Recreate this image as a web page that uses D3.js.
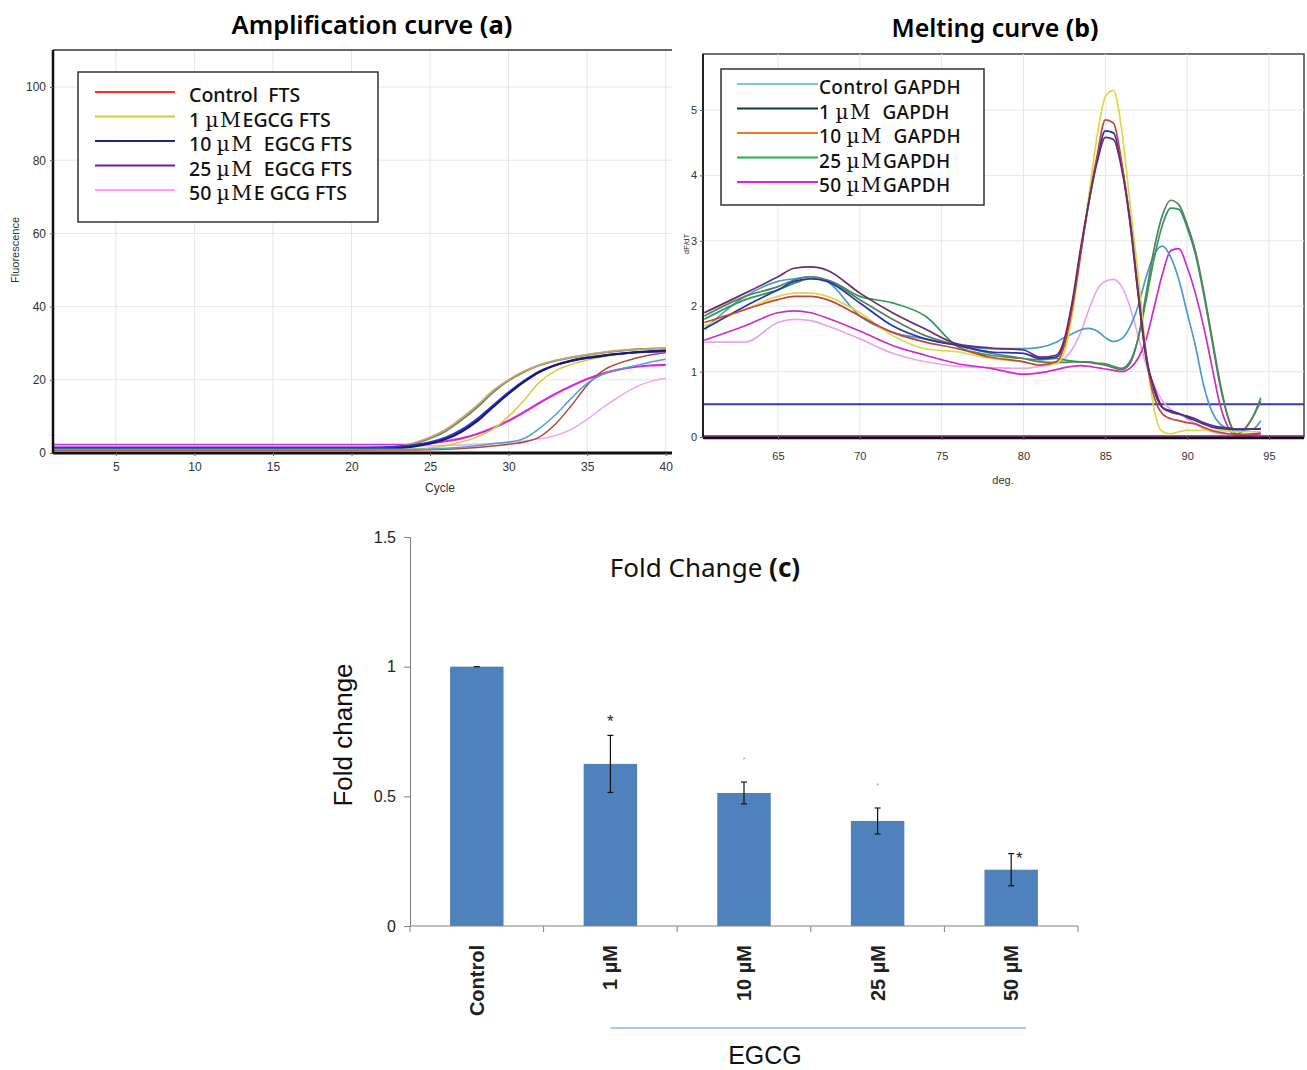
<!DOCTYPE html>
<html>
<head>
<meta charset="utf-8">
<script src="https://cdn.jsdelivr.net/npm/d3@7"></script>
<style>
  body { margin: 0; background: #fff; }
  svg { display: block; }
</style>
</head>
<body>
<svg id="chart" width="1307" height="1070"></svg>
<script>
// ---- panel (a) amplification curve ----
var ampCycles  = [1, 5, 10, 15, 20, 22, 23, 24, 25, 26, 27, 28, 29, 30, 31, 32, 33, 34, 35, 36, 37, 38, 39, 40];
var ampOlive   = [1.0, 1.0, 1.0, 1.0, 1.0, 1.2, 1.6, 2.5, 4.0, 6.0, 9.0, 12.5, 16.5, 19.8, 22.2, 24.0, 25.2, 26.1, 26.8, 27.4, 27.9, 28.3, 28.5, 28.6];
var ampTan     = [1.2, 1.2, 1.2, 1.2, 1.2, 1.4, 1.8, 2.8, 4.3, 6.4, 9.5, 13.0, 17.0, 20.0, 22.4, 24.1, 25.3, 26.2, 26.9, 27.5, 28.0, 28.3, 28.4, 28.5];
var ampNavy    = [1.0, 1.0, 1.0, 1.0, 1.0, 1.1, 1.3, 1.8, 2.6, 3.8, 5.8, 8.7, 12.5, 16.2, 19.5, 22.2, 24.0, 25.2, 26.0, 26.6, 27.1, 27.5, 27.8, 28.0];
var ampBlue    = [1.5, 1.5, 1.5, 1.5, 1.5, 1.6, 1.8, 2.2, 3.0, 4.3, 6.4, 9.4, 13.0, 16.6, 19.8, 22.4, 24.1, 25.3, 26.1, 26.7, 27.1, 27.4, 27.6, 27.8];
var ampPurple  = [1.3, 1.3, 1.3, 1.3, 1.3, 1.4, 1.6, 2.0, 2.8, 4.0, 6.0, 9.0, 12.8, 16.4, 19.6, 22.3, 24.0, 25.1, 25.9, 26.5, 27.0, 27.4, 27.7, 27.9];
var ampYellow  = [1.0, 1.0, 1.0, 1.0, 1.0, 1.0, 1.0, 1.1, 1.4, 2.0, 3.0, 4.4, 6.5, 10.0, 14.5, 19.5, 22.5, 24.2, 25.4, 26.3, 27.0, 27.5, 27.9, 28.2];
var ampMagenta = [2.2, 2.2, 2.2, 2.2, 2.2, 2.2, 2.2, 2.3, 2.6, 3.2, 4.0, 5.2, 6.8, 8.8, 11.2, 13.8, 16.2, 18.3, 20.2, 21.7, 22.8, 23.5, 23.9, 24.1];
var ampRed     = [0.8, 0.8, 0.8, 0.8, 0.8, 0.8, 0.8, 0.8, 0.9, 1.0, 1.2, 1.5, 1.9, 2.4, 3.0, 4.5, 8.0, 13.0, 18.5, 22.5, 24.5, 25.8, 26.8, 27.4];
var ampSteel   = [1.0, 1.0, 1.0, 1.0, 1.0, 1.0, 1.0, 1.0, 1.1, 1.3, 1.6, 2.0, 2.5, 3.0, 4.0, 6.8, 10.5, 15.0, 19.0, 21.5, 22.8, 23.8, 24.8, 25.6];
var ampPink    = [2.0, 2.0, 2.0, 2.0, 2.0, 2.0, 2.0, 2.0, 2.0, 2.1, 2.2, 2.4, 2.6, 2.9, 3.3, 3.9, 4.8, 6.5, 9.2, 12.4, 15.3, 17.8, 19.5, 20.4];
var ampXTicks  = [5, 10, 15, 20, 25, 30, 35, 40];
var ampYTicks  = [0, 20, 40, 60, 80, 100];
var ampLabels  = [["Control  FTS"], ["1 ", "\u00b5M", "EGCG FTS"], ["10 ", "\u00b5M", "  EGCG FTS"],
                  ["25 ", "\u00b5M", "  EGCG FTS"], ["50 ", "\u00b5M", "E GCG FTS"]];
var ampLegendColors = ["#ff2a2a", "#cfcf2a", "#1b2a7a", "#6a1bb5", "#ff9cee"];

// ---- panel (b) melting curve ----
var meltTemps   = [60.5, 63, 65, 66, 67, 68, 70, 72, 74, 76, 78, 80, 81, 82, 82.5, 83, 83.5, 84, 84.5, 85,
                   85.5, 86, 86.5, 87, 87.5, 88, 88.5, 89, 89.5, 90, 90.5, 91, 91.5, 92, 92.5, 93, 94, 94.5];
var meltPink    = [1.45, 1.45, 1.75, 1.8, 1.78, 1.7, 1.5, 1.28, 1.15, 1.08, 1.06, 1.05, 1.08, 1.12, 1.2, 1.35, 1.6, 1.95, 2.25, 2.38,
                   2.41, 2.3, 2.0, 1.55, 1.1, 0.78, 0.55, 0.42, 0.35, 0.28, 0.2, 0.13, 0.08, 0.05, 0.04, 0.03, 0.03, 0.03];
var meltMagenta = [1.48, 1.7, 1.9, 1.93, 1.9, 1.82, 1.62, 1.4, 1.25, 1.12, 1.05, 0.96, 0.98, 1.03, 1.06, 1.08, 1.09, 1.08, 1.06, 1.04,
                   1.02, 1.0, 1.05, 1.2, 1.5, 2.0, 2.5, 2.85, 2.88, 2.6, 2.2, 1.7, 1.1, 0.5, 0.15, 0.02, 0.03, 0.05];
var meltSteel   = [1.65, 2.15, 2.38, 2.42, 2.45, 2.38, 1.85, 1.6, 1.5, 1.4, 1.35, 1.35, 1.37, 1.45, 1.52, 1.58, 1.64, 1.66, 1.62, 1.52,
                   1.46, 1.5, 1.68, 2.0, 2.45, 2.8, 2.92, 2.75, 2.4, 1.9, 1.4, 0.8, 0.4, 0.2, 0.13, 0.1, 0.12, 0.25];
var meltGreen   = [1.8, 2.1, 2.25, 2.35, 2.42, 2.4, 2.15, 2.05, 1.85, 1.38, 1.25, 1.2, 1.18, 1.2, 1.18, 1.16, 1.15, 1.15, 1.13, 1.12,
                   1.08, 1.05, 1.15, 1.5, 2.1, 2.75, 3.25, 3.5, 3.48, 3.2, 2.8, 2.2, 1.5, 0.8, 0.3, 0.05, 0.3, 0.6];
var meltDkGreen = [1.85, 2.15, 2.3, 2.4, 2.45, 2.4, 2.1, 1.8, 1.55, 1.4, 1.28, 1.2, 1.15, 1.14, 1.14, 1.15, 1.15, 1.14, 1.12, 1.1,
                   1.06, 1.03, 1.12, 1.5, 2.2, 2.9, 3.4, 3.62, 3.55, 3.25, 2.85, 2.25, 1.55, 0.85, 0.3, 0.04, 0.3, 0.55];
var meltNavy    = [1.65, 2.0, 2.25, 2.38, 2.42, 2.38, 2.05, 1.7, 1.5, 1.4, 1.3, 1.28, 1.2, 1.22, 1.45, 2.05, 2.85, 3.6, 4.25, 4.68,
                   4.65, 4.15, 3.35, 2.25, 1.25, 0.7, 0.45, 0.4, 0.36, 0.3, 0.25, 0.2, 0.15, 0.13, 0.12, 0.12, 0.12, 0.12];
var meltRed     = [1.75, 1.95, 2.1, 2.15, 2.15, 2.1, 1.85, 1.6, 1.45, 1.35, 1.22, 1.15, 1.1, 1.15, 1.4, 2.0, 2.8, 3.6, 4.3, 4.85,
                   4.8, 4.2, 3.3, 2.2, 1.2, 0.6, 0.35, 0.28, 0.25, 0.22, 0.2, 0.15, 0.1, 0.07, 0.05, 0.04, 0.05, 0.06];
var meltPurple  = [1.9, 2.2, 2.45, 2.58, 2.6, 2.55, 2.2, 1.9, 1.65, 1.42, 1.36, 1.33, 1.22, 1.25, 1.5, 2.1, 2.9, 3.6, 4.2, 4.58,
                   4.55, 4.1, 3.3, 2.2, 1.2, 0.75, 0.45, 0.38, 0.35, 0.32, 0.28, 0.22, 0.18, 0.15, 0.14, 0.12, 0.12, 0.13];
var meltYellow  = [1.7, 1.95, 2.15, 2.2, 2.2, 2.15, 1.9, 1.55, 1.35, 1.3, 1.2, 1.15, 1.1, 1.12, 1.3, 1.9, 2.8, 3.7, 4.6, 5.2,
                   5.3, 4.7, 3.6, 2.5, 1.3, 0.4, 0.08, 0.05, 0.08, 0.1, 0.1, 0.1, 0.1, 0.1, 0.09, 0.08, 0.08, 0.08];
var meltThreshold = 0.5;
var meltXTicks  = [65, 70, 75, 80, 85, 90, 95];
var meltYTicks  = [0, 1, 2, 3, 4, 5];
var meltLabels  = [["Control GAPDH"], ["1 ", "\u00b5M", "  GAPDH"], ["10 ", "\u00b5M", "  GAPDH"],
                   ["25 ", "\u00b5M", "GAPDH"], ["50 ", "\u00b5M", "GAPDH"]];
var meltLegendColors = ["#7ec4de", "#0e3b2e", "#f07a20", "#22b050", "#e020e0"];

// ---- panel (c) fold change ----
var foldCats   = ["Control", "1 \u00b5M", "10 \u00b5M", "25 \u00b5M", "50 \u00b5M"];
var foldValues = [1.0, 0.625, 0.513, 0.405, 0.217];
var foldErrors = [0.0, 0.11, 0.042, 0.05, 0.062];
var foldStars  = ["", "*", "*", "*", "*"];
var foldTicks  = [0, 0.5, 1, 1.5];

var sans = "'Noto Sans', 'Noto Sans CJK KR', sans-serif";
var arial = "'Liberation Sans', Arial, sans-serif";
var narrow = "'Liberation Sans Narrow', 'Liberation Sans', Arial, sans-serif";
var serif = "'DejaVu Serif', 'Liberation Serif', serif";

var svg = d3.select('#chart');
svg.append('rect').attr('width', 1307).attr('height', 1070).attr('fill', '#fff');

// small helper for the "xx µM yyy" legend rows
function legendText(sel, parts, size) {
    parts.forEach(function (p, k) {
        var t = sel.append('tspan').text(p);
        if (k === 1) t.attr('font-family', serif).attr('font-size', size + 1).attr('letter-spacing', 1.5);
    });
}

// ================= panel (a) =================
var boxA = { left: 53, right: 672, top: 50, bottom: 453 };
var xA = d3.scaleLinear().domain([1, 40.4]).range([boxA.left, boxA.right]);
var yA = d3.scaleLinear().domain([0, 100]).range([453, 87]);
var gA = svg.append('g');

gA.append('text').attr('x', 372).attr('y', 34).attr('text-anchor', 'middle')
    .attr('font-family', sans).attr('font-size', 25.5).attr('font-weight', 600)
    .call(function (t) {
        t.append('tspan').text('Amplification curve ');
        t.append('tspan').attr('font-weight', 700).text('(a)');
    });

// grid
gA.selectAll('.gx').data(ampXTicks).enter().append('line')
    .attr('x1', xA).attr('x2', xA).attr('y1', boxA.top).attr('y2', boxA.bottom)
    .attr('stroke', '#e6e6e6');
gA.selectAll('.gy').data(ampYTicks.slice(1)).enter().append('line')
    .attr('x1', boxA.left).attr('x2', boxA.right).attr('y1', yA).attr('y2', yA)
    .attr('stroke', '#e6e6e6');

// curves
var ampSeries = [
    { v: ampMagenta, c: '#d82ad8', w: 2.2 },
    { v: ampPink, c: '#f2a6ee', w: 1.5 },
    { v: ampOlive, c: '#6a8f4a', w: 2 },
    { v: ampTan, c: '#c9a27c', w: 1.8 },
    { v: ampYellow, c: '#cfcf3a', w: 1.5 },
    { v: ampPurple, c: '#5a2a9a', w: 1.8 },
    { v: ampBlue, c: '#2a3cc8', w: 1.8 },
    { v: ampNavy, c: '#1a1a70', w: 2 },
    { v: ampRed, c: '#b5473a', w: 1.5 },
    { v: ampSteel, c: '#4ea3cf', w: 1.5 }
];
var lineA = d3.line()
    .x(function (d, i) { return xA(ampCycles[i]); })
    .y(function (d) { return yA(d); })
    .curve(d3.curveMonotoneX);
gA.selectAll('.curveA').data(ampSeries).enter().append('path')
    .attr('d', function (s) { return lineA(s.v); })
    .attr('fill', 'none').attr('stroke', function (s) { return s.c; })
    .attr('stroke-width', function (s) { return s.w; });

// frame and axes
gA.append('line').attr('x1', boxA.left).attr('x2', boxA.right).attr('y1', boxA.top).attr('y2', boxA.top)
    .attr('stroke', '#333').attr('stroke-width', 1.5);
gA.append('line').attr('x1', boxA.left).attr('x2', boxA.left).attr('y1', boxA.top).attr('y2', boxA.bottom)
    .attr('stroke', '#111').attr('stroke-width', 2.5);
gA.append('line').attr('x1', boxA.left).attr('x2', boxA.right).attr('y1', boxA.bottom).attr('y2', boxA.bottom)
    .attr('stroke', '#111').attr('stroke-width', 3);

var axA = gA.append('g').attr('transform', 'translate(' + boxA.left + ',0)')
    .call(d3.axisLeft(yA).tickValues(ampYTicks).tickSize(3).tickPadding(4));
var axAx = gA.append('g').attr('transform', 'translate(0,' + boxA.bottom + ')')
    .call(d3.axisBottom(xA).tickValues(ampXTicks).tickSize(3).tickPadding(6));
[axA, axAx].forEach(function (a) {
    a.select('.domain').remove();
    a.selectAll('text').attr('font-family', narrow).attr('font-size', 12).attr('fill', '#333');
    a.selectAll('line').attr('stroke', '#666');
});

gA.append('text').attr('x', 440).attr('y', 492).attr('text-anchor', 'middle')
    .attr('font-family', narrow).attr('font-size', 12).attr('fill', '#333').text('Cycle');
gA.append('text').attr('transform', 'translate(19,250) rotate(-90)').attr('text-anchor', 'middle')
    .attr('font-family', narrow).attr('font-size', 11).attr('fill', '#333').text('Fluorescence');

// legend a
var legA = gA.append('g');
legA.append('rect').attr('x', 78).attr('y', 72).attr('width', 300).attr('height', 150)
    .attr('fill', '#fff').attr('stroke', '#333').attr('stroke-width', 1.5);
ampLabels.forEach(function (lab, i) {
    var cy = 95 + i * 24.5;
    legA.append('line').attr('x1', 95).attr('x2', 175).attr('y1', cy - 3).attr('y2', cy - 3)
        .attr('stroke', ampLegendColors[i]).attr('stroke-width', 2);
    var t = legA.append('text').attr('x', 189).attr('y', cy + 7)
        .attr('font-family', sans).attr('font-size', 19.5).attr('font-weight', 500)
        .attr('fill', '#111').style('white-space', 'pre');
    legendText(t, lab, 19.5);
});

// ================= panel (b) =================
var boxB = { left: 703, right: 1304, top: 54, bottom: 437 };
var xB = d3.scaleLinear().domain([60.42, 97.14]).range([boxB.left, boxB.right]);
var yB = d3.scaleLinear().domain([0, 5]).range([437, 110]);
var gB = svg.append('g');

gB.append('text').attr('x', 995).attr('y', 37).attr('text-anchor', 'middle')
    .attr('font-family', sans).attr('font-size', 25).attr('font-weight', 600)
    .call(function (t) {
        t.append('tspan').text('Melting curve ');
        t.append('tspan').attr('font-weight', 700).text('(b)');
    });

gB.append('rect').attr('x', boxB.left).attr('y', boxB.top)
    .attr('width', boxB.right - boxB.left).attr('height', boxB.bottom - boxB.top)
    .attr('fill', '#fff').attr('stroke', '#444').attr('stroke-width', 1.5);
gB.selectAll('.gx').data(meltXTicks).enter().append('line')
    .attr('x1', xB).attr('x2', xB).attr('y1', boxB.top).attr('y2', boxB.bottom)
    .attr('stroke', '#e6e6e6');
gB.selectAll('.gy').data(meltYTicks.slice(1)).enter().append('line')
    .attr('x1', boxB.left).attr('x2', boxB.right).attr('y1', yB).attr('y2', yB)
    .attr('stroke', '#e6e6e6');

// threshold line
gB.append('line').attr('x1', boxB.left).attr('x2', boxB.right)
    .attr('y1', yB(meltThreshold)).attr('y2', yB(meltThreshold))
    .attr('stroke', '#3b3ba8').attr('stroke-width', 2);

var meltSeries = [
    { v: meltPink, c: '#eaa6ea' },
    { v: meltMagenta, c: '#cc2ccc' },
    { v: meltSteel, c: '#4a9cc9' },
    { v: meltGreen, c: '#2f9a5a' },
    { v: meltDkGreen, c: '#5a7f5e' },
    { v: meltYellow, c: '#d9d94a' },
    { v: meltNavy, c: '#2435b0' },
    { v: meltRed, c: '#c4453a' },
    { v: meltPurple, c: '#6b2c6b' }
];
var lineB = d3.line()
    .x(function (d, i) { return xB(meltTemps[i]); })
    .y(function (d) { return yB(d); })
    .curve(d3.curveMonotoneX);
gB.selectAll('.curveB').data(meltSeries).enter().append('path')
    .attr('d', function (s) { return lineB(s.v); })
    .attr('fill', 'none').attr('stroke', function (s) { return s.c; })
    .attr('stroke-width', 1.7);

// zero line + axes
gB.append('line').attr('x1', boxB.left).attr('x2', boxB.right).attr('y1', yB(0) - 1).attr('y2', yB(0) - 1)
    .attr('stroke', '#8a1f8a').attr('stroke-width', 1.5);
gB.append('line').attr('x1', boxB.left).attr('x2', boxB.right).attr('y1', yB(0) + 1).attr('y2', yB(0) + 1)
    .attr('stroke', '#111').attr('stroke-width', 2.5);
gB.append('line').attr('x1', boxB.left).attr('x2', boxB.left).attr('y1', boxB.top).attr('y2', boxB.bottom)
    .attr('stroke', '#222').attr('stroke-width', 2);

var axB = gB.append('g').attr('transform', 'translate(' + boxB.left + ',0)')
    .call(d3.axisLeft(yB).tickValues(meltYTicks).tickSize(3).tickPadding(3).tickFormat(d3.format('d')));
var axBx = gB.append('g').attr('transform', 'translate(0,' + boxB.bottom + ')')
    .call(d3.axisBottom(xB).tickValues(meltXTicks).tickSize(3).tickPadding(12));
[axB, axBx].forEach(function (a) {
    a.select('.domain').remove();
    a.selectAll('text').attr('font-family', narrow).attr('font-size', 11).attr('fill', '#333');
    a.selectAll('line').attr('stroke', '#666');
});
gB.append('text').attr('x', 1003).attr('y', 484).attr('text-anchor', 'middle')
    .attr('font-family', narrow).attr('font-size', 11).attr('fill', '#333').text('deg.');
gB.append('text').attr('transform', 'translate(689,244) rotate(-90)').attr('text-anchor', 'middle')
    .attr('font-family', narrow).attr('font-size', 8).attr('fill', '#333').text('dF/dT');

// legend b
var legB = gB.append('g');
legB.append('rect').attr('x', 721).attr('y', 69).attr('width', 263).attr('height', 136)
    .attr('fill', '#fff').attr('stroke', '#333').attr('stroke-width', 1.5);
meltLabels.forEach(function (lab, i) {
    var cy = 87 + i * 24.5;
    legB.append('line').attr('x1', 737).attr('x2', 818).attr('y1', cy - 3).attr('y2', cy - 3)
        .attr('stroke', meltLegendColors[i]).attr('stroke-width', 2);
    var t = legB.append('text').attr('x', 819).attr('y', cy + 7)
        .attr('font-family', sans).attr('font-size', 19).attr('font-weight', 500)
        .attr('letter-spacing', 0.3)
        .attr('fill', '#111').style('white-space', 'pre');
    legendText(t, lab, 19);
});

// ================= panel (c) =================
var yC = d3.scaleLinear().domain([0, 1.5]).range([926, 537]);
var xC = d3.scaleBand().domain(foldCats).range([410, 1078]).paddingInner(0.6).paddingOuter(0.3);
var gC = svg.append('g');
var bw = xC.bandwidth(), step = xC.step();

gC.append('text').attr('x', 705).attr('y', 577).attr('text-anchor', 'middle')
    .attr('font-family', sans).attr('font-size', 26).attr('fill', '#111')
    .call(function (t) {
        t.append('tspan').text('Fold Change ');
        t.append('tspan').attr('font-weight', 700).text('(c)');
    });

gC.selectAll('.bar').data(foldValues).enter().append('rect')
    .attr('x', function (d, i) { return xC(foldCats[i]); })
    .attr('y', function (d) { return yC(d); })
    .attr('width', bw)
    .attr('height', function (d) { return yC(0) - yC(d); })
    .attr('fill', '#4f81bd');

// error bars
foldValues.forEach(function (v, i) {
    var cx = xC(foldCats[i]) + bw / 2, e = foldErrors[i];
    var g = gC.append('g').attr('stroke', '#111').attr('stroke-width', 1.2);
    if (e > 0) g.append('line').attr('x1', cx).attr('x2', cx).attr('y1', yC(v + e)).attr('y2', yC(v - e));
    g.append('line').attr('x1', cx - 3).attr('x2', cx + 3).attr('y1', yC(v + e)).attr('y2', yC(v + e));
    if (e > 0) g.append('line').attr('x1', cx - 3).attr('x2', cx + 3).attr('y1', yC(v - e)).attr('y2', yC(v - e));
    if (foldStars[i]) {
        var faint = (i === 2 || i === 3);
        var last = (i === foldValues.length - 1);
        gC.append('text')
            .attr('x', cx + (last ? 8 : 0))
            .attr('y', last ? yC(v + e) + 10 : yC(v + e) - (faint ? 20 : 8))
            .attr('text-anchor', 'middle')
            .attr('font-family', arial).attr('font-size', faint ? 7 : 17)
            .attr('fill', faint ? '#999' : '#222').text(foldStars[i]);
    }
});

// axes
var axC = gC.append('g').attr('transform', 'translate(410,0)')
    .call(d3.axisLeft(yC).tickValues(foldTicks).tickSize(6).tickPadding(8)
        .tickFormat(function (d) { return d === 0 || d === 1 ? d3.format('d')(d) : d3.format('.1f')(d); }));
axC.select('.domain').attr('stroke', '#808080');
axC.selectAll('line').attr('stroke', '#808080');
axC.selectAll('text').attr('font-family', arial).attr('font-size', 16).attr('fill', '#222');

gC.append('line').attr('x1', 410).attr('x2', 1078).attr('y1', yC(0)).attr('y2', yC(0))
    .attr('stroke', '#808080').attr('stroke-width', 1.2);
d3.range(foldCats.length + 1).forEach(function (k) {
    var bx = xC.range()[0] + k * step;
    gC.append('line').attr('x1', bx).attr('x2', bx).attr('y1', yC(0)).attr('y2', yC(0) + 6)
        .attr('stroke', '#808080');
});

gC.selectAll('.cat').data(foldCats).enter().append('text')
    .attr('transform', function (d) {
        return 'translate(' + (xC(d) + bw / 2 + 7) + ',945) rotate(-90)';
    })
    .attr('text-anchor', 'end')
    .attr('font-family', arial).attr('font-size', 20).attr('font-weight', 700).attr('fill', '#222')
    .text(function (d) { return d; });

gC.append('text').attr('transform', 'translate(352,735) rotate(-90)').attr('text-anchor', 'middle')
    .attr('font-family', arial).attr('font-size', 26).attr('fill', '#111').text('Fold change');

// EGCG bracket line
gC.append('line')
    .attr('x1', xC(foldCats[1]) + bw / 2).attr('x2', xC(foldCats[4]) + bw / 2 + 15)
    .attr('y1', 1028).attr('y2', 1028)
    .attr('stroke', '#8fb8e8').attr('stroke-width', 1.5);
gC.append('text').attr('x', 765).attr('y', 1064).attr('text-anchor', 'middle')
    .attr('font-family', narrow).attr('font-size', 25).attr('fill', '#111').text('EGCG');
</script>
</body>
</html>
